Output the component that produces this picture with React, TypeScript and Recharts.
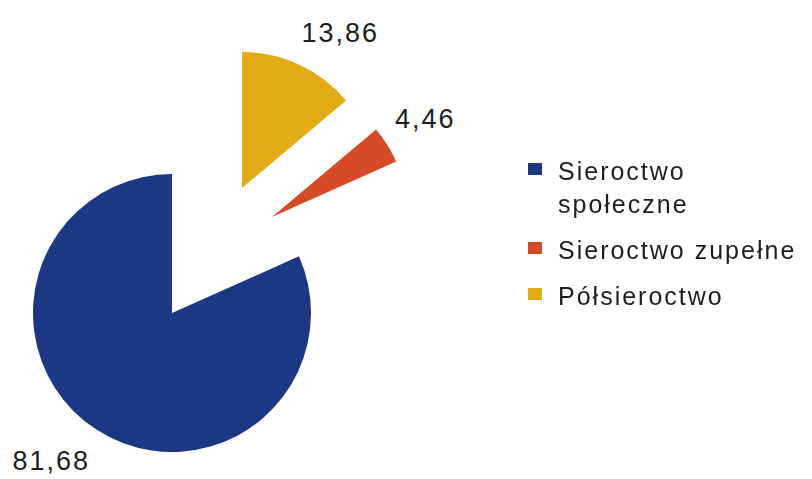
import React from 'react';
import { PieChart, Pie, Cell, Legend } from 'recharts';

const categories = ['Sieroctwo społeczne', 'Sieroctwo zupełne', 'Półsieroctwo'];
const values = [81.68, 4.46, 13.86];
const colors = ['#1c3884', '#d64a26', '#e4ab17'];

// each slice is drawn by its own pie, shifted to get the exploded look
const slicePos = [
  { cx: 172, cy: 313, r: 139, ldx: -45, ldy: 31 },
  { cx: 272, cy: 217, r: 136, ldx: 38, ldy: -26 },
  { cx: 242, cy: 188, r: 136, ldx: 41, ldy: -32 },
];

const data = categories.map((name, i) => ({ name, value: values[i] }));

const fmt = (v: number) => v.toFixed(2).replace('.', ',');
const RAD = Math.PI / 180;

const makeLabel = (target: number) => (props: any) => {
  const { cx, cy, midAngle, outerRadius, index, value } = props;
  if (index !== target) return null;
  const p = slicePos[target];
  const x = cx + outerRadius * Math.cos(-midAngle * RAD) + p.ldx;
  const y = cy + outerRadius * Math.sin(-midAngle * RAD) + p.ldy;
  return (
    <text
      x={x}
      y={y}
      textAnchor="middle"
      dominantBaseline="central"
      fill="#1e1e1e"
      fontSize={27}
      letterSpacing={2}
      fontFamily="'Liberation Sans', Arial, sans-serif"
    >
      {fmt(value)}
    </text>
  );
};

const LegendBox = () => (
  <div style={{ fontFamily: "'Liberation Sans', Arial, sans-serif", fontSize: 25, letterSpacing: 2, color: '#1e1e1e', lineHeight: '33px' }}>
    {categories.map((c, i) => (
      <div key={c} style={{ display: 'flex', alignItems: 'flex-start', marginBottom: 13 }}>
        <span style={{ width: 14, height: 12, background: colors[i], marginTop: 8, marginRight: 16, flexShrink: 0 }} />
        <span style={{ width: 255 }}>{c}</span>
      </div>
    ))}
  </div>
);

export default function App() {
  return (
    <div style={{ position: 'fixed', left: 0, top: 0, width: 812, height: 479, background: '#fff' }}>
      <PieChart width={812} height={479} margin={{ top: 0, right: 0, bottom: 0, left: 0 }}>
        {slicePos.map((p, k) => (
          <Pie
            key={k}
            data={data}
            dataKey="value"
            nameKey="name"
            cx={p.cx}
            cy={p.cy}
            outerRadius={p.r}
            startAngle={90}
            endAngle={450}
            label={makeLabel(k)}
            labelLine={false}
            isAnimationActive={false}
            stroke="none"
          >
            {data.map((d, i) => (
              <Cell key={d.name} fill={i === k ? colors[i] : 'transparent'} stroke="none" />
            ))}
          </Pie>
        ))}
        <Legend
          layout="vertical"
          content={() => <LegendBox />}
          wrapperStyle={{ position: 'absolute', left: 528, top: 155, width: 290 }}
        />
      </PieChart>
    </div>
  );
}
